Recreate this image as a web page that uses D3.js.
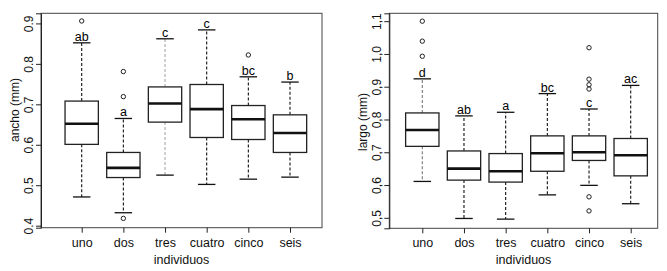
<!DOCTYPE html>
<html>
<head>
<meta charset="utf-8">
<script src="https://cdn.jsdelivr.net/npm/d3@7"></script>
<style>
  body { margin: 0; background: #fff; }
  svg { display: block; }
  text { font-family: "Liberation Sans", Arial, sans-serif; fill: #111; }
  .hz { font-family: "Liberation Sans Narrow", "Arial Narrow", "Liberation Sans", sans-serif; }
</style>
</head>
<body>
<div id="chart"></div>
<script>
const categories = ['uno', 'dos', 'tres', 'cuatro', 'cinco', 'seis'];

// ancho (mm)
const anchoLow = [0.471, 0.432, 0.525, 0.502, 0.515, 0.520];
const anchoQ1 = [0.601, 0.519, 0.656, 0.618, 0.613, 0.581];
const anchoMed = [0.652, 0.543, 0.702, 0.688, 0.663, 0.629];
const anchoQ3 = [0.708, 0.581, 0.743, 0.749, 0.697, 0.674];
const anchoHigh = [0.852, 0.665, 0.862, 0.884, 0.768, 0.755];
const anchoOut = [[0.906], [0.781, 0.719, 0.418], [], [], [0.822], []];
const anchoLetters = ['ab', 'a', 'c', 'c', 'bc', 'b'];
const anchoTicks = [0.4, 0.5, 0.6, 0.7, 0.8, 0.9];

// largo (mm)
const largoLow = [0.611, 0.498, 0.496, 0.570, 0.599, 0.543];
const largoQ1 = [0.718, 0.615, 0.609, 0.642, 0.675, 0.628];
const largoMed = [0.768, 0.650, 0.642, 0.697, 0.700, 0.691];
const largoQ3 = [0.820, 0.704, 0.696, 0.750, 0.750, 0.742];
const largoHigh = [0.924, 0.811, 0.822, 0.879, 0.832, 0.904];
const largoOut = [[1.100, 1.039, 0.993], [], [], [], [1.019, 0.923, 0.906, 0.893, 0.564, 0.521], []];
const largoLetters = ['d', 'ab', 'a', 'bc', 'c', 'ac'];
const largoTicks = [0.5, 0.6, 0.7, 0.8, 0.9, 1.0, 1.1];

const W = 667, H = 271;
const svg = d3.select('#chart').append('svg').attr('width', W).attr('height', H);

function drawPanel(opts) {
  const { frame, yDomain, xRange, low, q1, med, q3, high, out, letters, ticks, fmt, yTitle, yTitleY } = opts;
  const x = d3.scaleLinear().domain([1, categories.length]).range(xRange);
  const y = d3.scaleLinear().domain(yDomain).range([frame.bottom, frame.top]);
  const step = x(2) - x(1);
  const bw = step * 0.8, cw = step * 0.42;
  const g = svg.append('g');

  const rows = categories.map((c, i) => ({
    i: i + 1, c, low: low[i], q1: q1[i], med: med[i], q3: q3[i], high: high[i], out: out[i], letter: letters[i]
  }));

  // whiskers + caps
  g.selectAll('.wh').data(rows).enter().append('g').each(function (d) {
    const s = d3.select(this);
    [[d.q3, d.high], [d.q1, d.low]].forEach(([a, b]) => {
      s.append('line')
        .attr('x1', x(d.i)).attr('x2', x(d.i))
        .attr('y1', y(a)).attr('y2', y(b))
        .attr('stroke', opts.whiskerColor ? opts.whiskerColor(d) : '#111')
        .attr('stroke-width', 1.1)
        .attr('stroke-dasharray', '3,2');
      s.append('line')
        .attr('x1', x(d.i) - cw / 2).attr('x2', x(d.i) + cw / 2)
        .attr('y1', y(b)).attr('y2', y(b))
        .attr('stroke', '#111').attr('stroke-width', 1.3);
    });
  });

  // boxes
  g.selectAll('.box').data(rows).enter().append('rect')
    .attr('x', d => x(d.i) - bw / 2)
    .attr('y', d => y(d.q3))
    .attr('width', bw)
    .attr('height', d => y(d.q1) - y(d.q3))
    .attr('fill', '#fff')
    .attr('stroke', '#222')
    .attr('stroke-width', 1.3);

  g.selectAll('.med').data(rows).enter().append('line')
    .attr('x1', d => x(d.i) - bw / 2).attr('x2', d => x(d.i) + bw / 2)
    .attr('y1', d => y(d.med)).attr('y2', d => y(d.med))
    .attr('stroke', '#111').attr('stroke-width', 2.6);

  // outliers
  const pts = rows.flatMap(d => d.out.map(v => ({ i: d.i, v })));
  g.selectAll('.out').data(pts).enter().append('circle')
    .attr('cx', d => x(d.i)).attr('cy', d => y(d.v)).attr('r', 2.2)
    .attr('fill', 'none').attr('stroke', '#222').attr('stroke-width', 1);

  // significance letters
  g.selectAll('.let').data(rows).enter().append('text')
    .attr('x', d => x(d.i)).attr('y', d => y(d.high) - 2)
    .attr('text-anchor', 'middle').attr('font-size', 12.5)
    .style('fill', '#000')
    .text(d => d.letter);

  // frame
  g.append('rect')
    .attr('x', frame.left).attr('y', frame.top)
    .attr('width', frame.right - frame.left).attr('height', frame.bottom - frame.top)
    .attr('fill', 'none').attr('stroke', '#444').attr('stroke-width', 1);

  // y axis
  const ya = g.append('g').attr('transform', `translate(${frame.left},0)`)
    .call(d3.axisLeft(y).tickValues(ticks).tickSize(5).tickPadding(2).tickFormat(fmt));
  ya.select('.domain').attr('stroke', '#222');
  ya.selectAll('.tick line').attr('stroke', '#222');
  ya.selectAll('.tick text')
    .attr('font-size', 12).attr('font-family', '"Liberation Sans", Arial, sans-serif').style('fill', '#111')
    .attr('transform', 'rotate(-90)').attr('x', 0).attr('y', -8).attr('dy', 0)
    .attr('text-anchor', 'middle');

  // x axis
  const xa = g.append('g').attr('transform', `translate(0,${frame.bottom})`)
    .call(d3.axisBottom(x).tickValues(d3.range(1, categories.length + 1)).tickSize(5).tickPadding(5)
      .tickFormat(d => categories[d - 1]));
  xa.select('.domain').remove();
  xa.selectAll('.tick line').attr('stroke', '#222');
  xa.selectAll('.tick text').attr('class', 'hz').attr('font-size', 12.5).style('fill', '#111');

  g.append('text').attr('class', 'hz')
    .attr('x', (frame.left + frame.right) / 2).attr('y', 263.5)
    .attr('text-anchor', 'middle').attr('font-size', 12.5)
    .text('individuos');

  g.append('text')
    .attr('transform', `translate(${frame.left - 22.5},${yTitleY}) rotate(-90)`)
    .attr('text-anchor', 'middle').attr('font-size', 12)
    .text(yTitle);
}

drawPanel({
  frame: { left: 41, right: 322, top: 13.3, bottom: 227.7 },
  yDomain: [0.395, 0.925],
  xRange: [81.7, 290],
  low: anchoLow, q1: anchoQ1, med: anchoMed, q3: anchoQ3, high: anchoHigh,
  out: anchoOut, letters: anchoLetters, ticks: anchoTicks,
  fmt: d3.format('.1f'),
  yTitle: 'ancho (mm)', yTitleY: 110,
  whiskerColor: d => d.c === 'tres' ? '#aaa' : '#111'
});

drawPanel({
  frame: { left: 389.3, right: 657.7, top: 13.3, bottom: 228.3 },
  yDomain: [0.468, 1.124],
  xRange: [422.3, 630.7],
  low: largoLow, q1: largoQ1, med: largoMed, q3: largoQ3, high: largoHigh,
  out: largoOut, letters: largoLetters, ticks: largoTicks,
  fmt: d => d3.format('.1f')(d).replace('.', ','),
  yTitle: 'largo (mm)', yTitleY: 122,
  whiskerColor: d => d.c === 'uno' ? '#777' : '#111'
});
</script>
</body>
</html>
